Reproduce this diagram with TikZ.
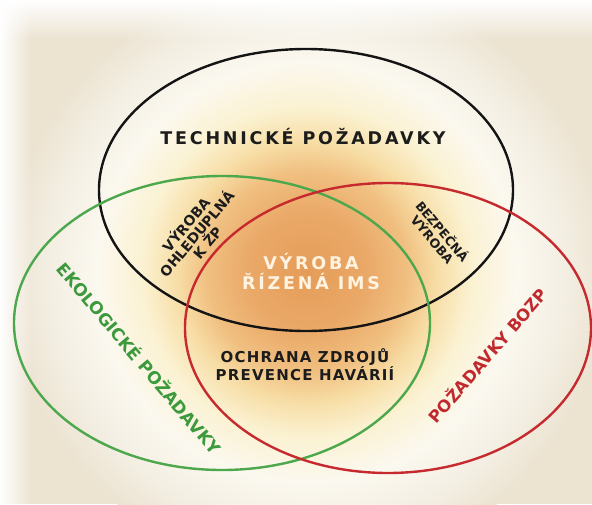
\documentclass[tikz,border=0pt]{standalone}
\usepackage{fontspec}
\setmainfont{DejaVu Sans}
\usetikzlibrary{fadings,shapes.geometric}
\definecolor{bgbeige}{HTML}{ECE3D1}
\definecolor{glowA}{HTML}{E59C58}
\definecolor{glowB}{HTML}{EAA968}
\definecolor{glowC}{HTML}{F0BF80}
\definecolor{glowD}{HTML}{F7DDA5}
\definecolor{glowE}{HTML}{FBF2D2}
\definecolor{glowF}{HTML}{FBF8EF}
\definecolor{glowG}{HTML}{F3EEE2}
\definecolor{ringblack}{HTML}{141414}
\definecolor{ringgreen}{HTML}{4DA84D}
\definecolor{ringred}{HTML}{C62A2E}
\definecolor{txtgreen}{HTML}{3C9A3C}
\definecolor{txtred}{HTML}{C02A2E}
\definecolor{txtdark}{HTML}{1C1C1C}
\definecolor{txtlight}{HTML}{FFF3E2}
\pgfdeclareradialshading{glow}{\pgfpoint{0bp}{0bp}}{color(0bp)=(glowA); color(5bp)=(glowB); color(8.3bp)=(glowC); color(10.8bp)=(glowD); color(13.75bp)=(glowE); color(17.5bp)=(glowF); color(21.7bp)=(glowG); color(25bp)=(bgbeige); color(50bp)=(bgbeige)}
\tikzfading[name=fadetop, top color=transparent!0, bottom color=transparent!100]
\tikzfading[name=fadeleft, left color=transparent!0, right color=transparent!100]
\newcommand{\fsz}[2]{\fontsize{#1}{#2}\selectfont\bfseries}
\begin{document}
\begin{tikzpicture}[x=1pt,y=-1pt,
  ring/.style={ellipse, draw, line width=2.4pt, inner sep=0pt, fill=none},
  lbl/.style={inner sep=0pt, align=center}]
\useasboundingbox (0,0) rectangle (592,504);
\clip (0,0) rectangle (592,504);
\fill[bgbeige] (0,0) rectangle (592,504);
\shade[shading=glow] (307,272) circle [radius=300];
\fill[white, path fading=fadetop] (0,0) rectangle (592,40);
\fill[white, path fading=fadeleft] (0,0) rectangle (32,504);
% rings
\node[ring, ringblack, minimum width=414pt, minimum height=282pt] (tech) at (306,190) {};
\node[ring, ringgreen, minimum width=416pt, minimum height=294pt] (eko) at (222,323) {};
\node[ring, ringred, minimum width=406pt, minimum height=290pt] (bozp) at (388,328) {};
% labels
\node[lbl, txtdark, font=\fsz{17.5}{18}\addfontfeatures{LetterSpace=16}] (ttech) at (303,137) {TECHNICKÉ POŽADAVKY};
\node[lbl, txtgreen, rotate=-50, font=\fsz{17}{18}] (teko) at (140,358) {EKOLOGICKÉ POŽADAVKY};
\node[lbl, txtred, rotate=49, font=\fsz{16.5}{18}] (tbozp) at (487,355) {POŽADAVKY BOZP};
\node[lbl, txtdark, rotate=50, font=\fsz{14}{14}] (tohled) at (196,233) {VÝROBA\\OHLEDUPLNÁ\\K ŽP};
\node[lbl, txtdark, rotate=-50, font=\fsz{12.5}{13}] (tbezp) at (438,235) {BEZPEČNÁ\\VÝROBA};
\node[lbl, txtlight, font=\fsz{17.5}{20}\addfontfeatures{LetterSpace=16}] (tims) at (311,272) {VÝROBA\\ŘÍZENÁ IMS};
\node[lbl, txtdark, font=\fsz{15}{14.5}\addfontfeatures{LetterSpace=8}] (tochr) at (305,365) {OCHRANA ZDROJŮ\\PREVENCE HAVÁRIÍ};
\end{tikzpicture}
\end{document}
